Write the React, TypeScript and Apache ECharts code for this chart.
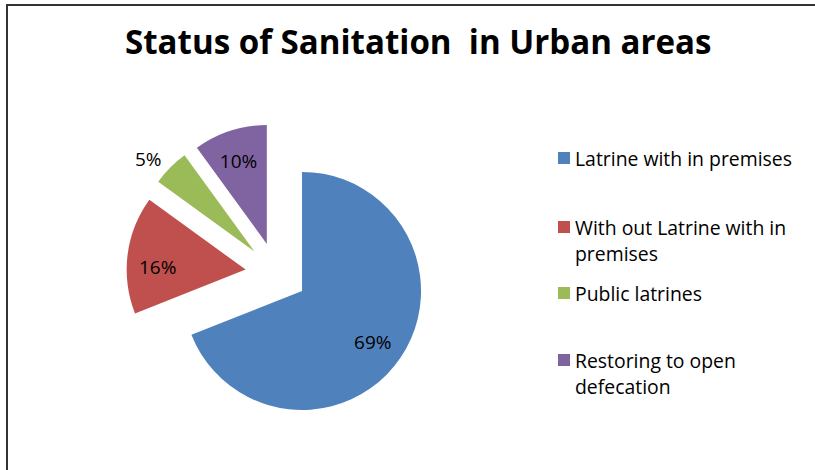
import React, { useEffect, useRef } from "react";
import * as echarts from "echarts";

const titleText = "Status of Sanitation  in Urban areas";
const categories = [
  "Latrine with in premises",
  "With out Latrine with in premises",
  "Public latrines",
  "Restoring to open defecation",
];
const values = [69, 16, 5, 10];
const colors = ["#4F81BD", "#C0504D", "#9BBB59", "#8064A2"];
// per-label nudges (Excel label placement)
const labelDx = [19, -26, -62, -9];
const labelDy = [16, 5, -48, -24];
const legendTops = [145, 188, 280, 321];
const legendLines = [1, 2, 1, 2];

const FONT = "'Open Sans', Lato, sans-serif";

export default function App() {
  const ref = useRef<HTMLDivElement>(null);
  useEffect(() => {
    if (!ref.current) return;
    const chart = echarts.init(ref.current, undefined, { renderer: "svg" });
    const lh = 26;
    chart.setOption({
      animation: false,
      backgroundColor: "#ffffff",
      title: {
        text: titleText,
        left: 125,
        top: 25,
        padding: 0,
        textStyle: { fontFamily: FONT, fontSize: 33.1, fontWeight: "bold", color: "#000" },
      },
      graphic: [
        {
          type: "line",
          shape: { x1: 6, y1: 5, x2: 815, y2: 5 },
          style: { stroke: "#333", lineWidth: 2 },
          silent: true,
        },
        {
          type: "line",
          shape: { x1: 7, y1: 4, x2: 7, y2: 470 },
          style: { stroke: "#333", lineWidth: 2 },
          silent: true,
        },
      ],
      legend: categories.map((c, i) => ({
        data: [c],
        orient: "vertical",
        left: 558,
        top: legendTops[i],
        padding: 0,
        itemWidth: 12,
        itemHeight: 12,
        icon: "rect",
        selectedMode: false,
        formatter: (name: string) => (legendLines[i] === 2 ? "\n" + name : name),
        textStyle: {
          fontFamily: FONT,
          fontSize: 19.4,
          color: "#000",
          lineHeight: lh,
          width: 228,
          overflow: "break",
        },
      })),
      series: [
        {
          type: "pie",
          center: [276.4, 273.5],
          radius: 119,
          startAngle: 90,
          clockwise: true,
          selectedMode: "multiple",
          selectedOffset: 31,
          avoidLabelOverlap: false,
          emphasis: { disabled: true },
          itemStyle: { borderWidth: 0 },
          data: categories.map((c, i) => ({
            name: c,
            value: values[i],
            selected: true,
            itemStyle: { color: colors[i] },
          })),
          label: {
            show: true,
            position: "inside",
            formatter: (p: any) => `${p.value}%`,
            fontFamily: FONT,
            fontSize: 19,
            color: "#000",
          },
          labelLine: { show: false },
          labelLayout: (p: any) => ({ dx: labelDx[p.dataIndex], dy: labelDy[p.dataIndex] }),
        },
      ],
    });
    return () => chart.dispose();
  }, []);
  return (
    <div
      ref={ref}
      style={{ position: "fixed", left: 0, top: 0, width: 815, height: 470, background: "#fff" }}
    />
  );
}
